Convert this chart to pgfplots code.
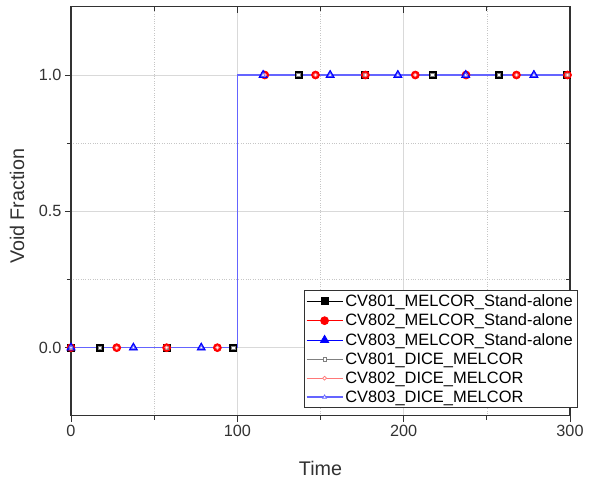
\documentclass[border=0pt]{standalone}
\usepackage{fontspec}
\setmainfont{Liberation Sans}
\usepackage{pgfplots}
\pgfplotsset{compat=1.18}
\definecolor{lgray}{RGB}{128,128,128}
\definecolor{lred}{RGB}{255,120,120}
\definecolor{lblue}{RGB}{100,100,255}
\definecolor{axgray}{RGB}{50,50,50}

\pgfplotsset{
  frame/.style={
    scale only axis, width=499bp, height=409bp,
    at={(0,0)}, anchor=south west,
    xmin=0, xmax=300, ymin=-0.25, ymax=1.25,
    xtick={0,100,200,300}, minor xtick={50,150,250},
    ytick={0,0.5,1}, minor ytick={0.25,0.75},
    major tick length=6bp, minor tick length=4bp,
    tick style={axgray, line width=1bp},
  }
}

\begin{document}
\begin{tikzpicture}
\begin{axis}[frame,
  set layers, mark layer=axis foreground,
  xtick pos=lower, ytick pos=left, tick align=outside,
  axis line style={axgray, line width=1.2bp},
  grid=both,
  major grid style={gray!30, line width=0.6bp},
  minor grid style={gray!45, dotted, line width=0.6bp},
  /pgf/number format/assume math mode=true,
  yticklabel style={/pgf/number format/.cd, fixed, fixed zerofill, precision=1},
  tick label style={font=\fontsize{16.3}{19}\selectfont, text=axgray},
  xlabel={Time}, ylabel={Void Fraction},
  label style={font=\fontsize{19.8}{23}\selectfont, text=axgray},
  xlabel style={at={(axis description cs:0.5,-0.128)}, anchor=center},
  ylabel style={at={(axis description cs:-0.108,0.512)}, anchor=center},
  legend style={at={(axis description cs:1,0)}, anchor=south east,
    xshift=7bp, yshift=8bp, font=\fontsize{16.5}{19}\selectfont,
    draw=axgray, cells={anchor=west}, row sep=2bp, inner sep=2bp},
  legend image code/.code={\draw[mark indices={2}]
    plot coordinates {(0bp,0bp)(18bp,0bp)(36bp,0bp)};},
]
% stand-alone runs
\addplot[black, line width=0.7bp, mark=square*, mark size=3.5bp,
  mark options={solid, fill=black}, mark indices={1,2,3,4,7,8,9,10,11}]
  coordinates {(0,0)(17.5,0)(57.5,0)(97.5,0)(100,0)(100,1)(136.7,1)(176.8,1)(217.3,1)(257.4,1)(298.3,1)(300,1)};
\addplot[red, line width=0.7bp, mark=*, mark size=4bp,
  mark options={solid, fill=red}, mark indices={1,2,3,4,7,8,9,10,11,12,13}]
  coordinates {(0,0)(27.5,0)(57.5,0)(88,0)(100,0)(100,1)(116.5,1)(147,1)(177,1)(207,1)(237.5,1)(267.8,1)(298.5,1)(300,1)};
\addplot[blue, line width=0.7bp, mark=triangle*, mark size=4.8bp,
  mark options={solid, fill=blue}, mark indices={1,2,3,6,7,8,9,10}]
  coordinates {(0,0)(37.5,0)(78.3,0)(100,0)(100,1)(115.5,1)(155.8,1)(196.5,1)(237.3,1)(278.3,1)(300,1)};
% coupled DICE-MELCOR runs
\addplot[lgray, line width=0.7bp, mark=square*, mark size=1.7bp,
  mark options={solid, fill=white}, mark indices={1,2,3,4,7,8,9,10,11}]
  coordinates {(0,0)(17.5,0)(57.5,0)(97.5,0)(100,0)(100,1)(136.7,1)(176.8,1)(217.3,1)(257.4,1)(298.3,1)(300,1)};
\addplot[lred, line width=0.7bp, mark=*, mark size=1.9bp,
  mark options={solid, fill=white}, mark indices={1,2,3,4,7,8,9,10,11,12,13}]
  coordinates {(0,0)(27.5,0)(57.5,0)(88,0)(100,0)(100,1)(116.5,1)(147,1)(177,1)(207,1)(237.5,1)(267.8,1)(298.5,1)(300,1)};
\addplot[lblue, line width=1.4bp, mark=triangle*, mark size=2.3bp,
  mark options={solid, fill=white, line width=0.7bp}, mark indices={1,2,3,6,7,8,9,10}]
  coordinates {(0,0)(37.5,0)(78.3,0)(100,0)(100,1)(115.5,1)(155.8,1)(196.5,1)(237.3,1)(278.3,1)(300,1)};
\legend{CV801\_MELCOR\_Stand-alone, CV802\_MELCOR\_Stand-alone,
  CV803\_MELCOR\_Stand-alone, CV801\_DICE\_MELCOR,
  CV802\_DICE\_MELCOR, CV803\_DICE\_MELCOR}
\end{axis}
% mirrored inner ticks on top and right
\begin{axis}[frame,
  xtick pos=upper, ytick pos=right, tick align=inside,
  xticklabels={}, yticklabels={},
  axis line style={draw=none},
]
\addplot[draw=none, forget plot] coordinates {(0,0)(300,1)};
\end{axis}
\path (-71bp,-66bp) rectangle (521bp,415bp);
\end{tikzpicture}
\end{document}
